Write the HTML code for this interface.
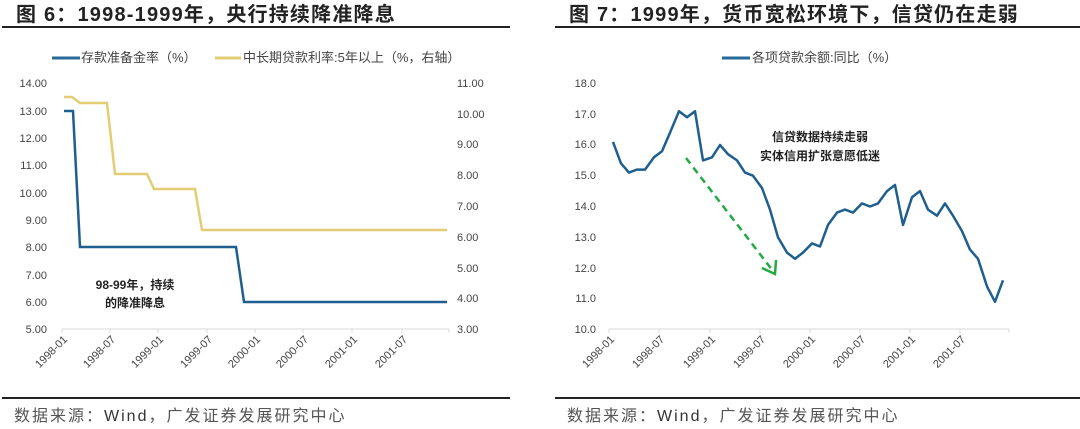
<!DOCTYPE html>
<html><head><meta charset="utf-8"><style>
body{margin:0;background:#fff;}
svg{display:block;font-family:"Liberation Sans","Noto Sans CJK SC",sans-serif;}
</style></head><body>
<svg width="1080" height="429" viewBox="0 0 1080 429" xmlns="http://www.w3.org/2000/svg">
<!-- titles -->
<text x="16" y="21" font-size="20" font-weight="bold" fill="#222" letter-spacing="1.2">图 6：1998-1999年，央行持续降准降息</text>
<text x="569" y="21" font-size="20" font-weight="bold" fill="#222" letter-spacing="1.2">图 7：1999年，货币宽松环境下，信贷仍在走弱</text>
<line x1="2" y1="27" x2="510" y2="27" stroke="#222" stroke-width="2"/>
<line x1="555" y1="27" x2="1080" y2="27" stroke="#222" stroke-width="2"/>
<line x1="2" y1="398" x2="510" y2="398" stroke="#222" stroke-width="2"/>
<line x1="555" y1="398" x2="1080" y2="398" stroke="#222" stroke-width="2"/>
<text x="14" y="421" font-size="16" fill="#555" letter-spacing="2">数据来源：<tspan fill="#333">Wind</tspan>，广发证券发展研究中心</text>
<text x="567" y="421" font-size="16" fill="#555" letter-spacing="2">数据来源：<tspan fill="#333">Wind</tspan>，广发证券发展研究中心</text>

<!-- LEFT CHART -->
<line x1="52" y1="58" x2="80" y2="58" stroke="#2a6a9a" stroke-width="3"/>
<text x="81" y="62" font-size="13" fill="#444">存款准备金率（%）</text>
<line x1="215" y1="58" x2="241" y2="58" stroke="#e3cd73" stroke-width="3"/>
<text x="243" y="62" font-size="13" fill="#444">中长期贷款利率:5年以上（%，右轴）</text>
<g font-size="11" fill="#444" text-anchor="end">
<text x="47" y="87">14.00</text><text x="47" y="115">13.00</text><text x="47" y="142">12.00</text>
<text x="47" y="169">11.00</text><text x="47" y="197">10.00</text><text x="47" y="224">9.00</text>
<text x="47" y="251">8.00</text><text x="47" y="279">7.00</text><text x="47" y="306">6.00</text>
<text x="47" y="333">5.00</text>
</g>
<g font-size="11" fill="#444">
<text x="457" y="87">11.00</text><text x="457" y="118">10.00</text><text x="457" y="148">9.00</text>
<text x="457" y="179">8.00</text><text x="457" y="210">7.00</text><text x="457" y="241">6.00</text>
<text x="457" y="272">5.00</text><text x="457" y="302">4.00</text><text x="457" y="333">3.00</text>
</g>
<line x1="62" y1="329" x2="449" y2="329" stroke="#d8d8d8" stroke-width="1"/>
<g stroke="#d8d8d8"><line x1="62" y1="329" x2="62" y2="333"/><line x1="110" y1="329" x2="110" y2="333"/><line x1="158" y1="329" x2="158" y2="333"/><line x1="207" y1="329" x2="207" y2="333"/><line x1="255" y1="329" x2="255" y2="333"/><line x1="303" y1="329" x2="303" y2="333"/><line x1="352" y1="329" x2="352" y2="333"/><line x1="402" y1="329" x2="402" y2="333"/><line x1="449" y1="329" x2="449" y2="333"/></g>
<g font-size="11" fill="#444" text-anchor="end">
<text transform="translate(68,340) rotate(-45)">1998-01</text>
<text transform="translate(116,340) rotate(-45)">1998-07</text>
<text transform="translate(164,340) rotate(-45)">1999-01</text>
<text transform="translate(213,340) rotate(-45)">1999-07</text>
<text transform="translate(261,340) rotate(-45)">2000-01</text>
<text transform="translate(309,340) rotate(-45)">2000-07</text>
<text transform="translate(358,340) rotate(-45)">2001-01</text>
<text transform="translate(408,340) rotate(-45)">2001-07</text>
</g>
<polyline fill="none" stroke="#e3cd73" stroke-width="2.5" points="64,97 72,97 80,103 107,103 115,174 147,174 154,189 195,189 202,230 447,230"/>
<polyline fill="none" stroke="#1f5f8f" stroke-width="2.5" points="64,111 73,111 80,247 236,247 244,302 447,302"/>
<g font-size="12" font-weight="bold" fill="#222" text-anchor="middle">
<text x="135" y="289">98-99年，持续</text>
<text x="135" y="307">的降准降息</text>
</g>

<!-- RIGHT CHART -->
<line x1="722" y1="58" x2="750" y2="58" stroke="#2a6a9a" stroke-width="3"/>
<text x="752" y="62" font-size="13" fill="#444">各项贷款余额:同比（%）</text>
<g font-size="11" fill="#444" text-anchor="end">
<text x="596" y="87">18.0</text><text x="596" y="118">17.0</text><text x="596" y="148">16.0</text>
<text x="596" y="179">15.0</text><text x="596" y="210">14.0</text><text x="596" y="241">13.0</text>
<text x="596" y="272">12.0</text><text x="596" y="302">11.0</text><text x="596" y="333">10.0</text>
</g>
<line x1="609" y1="329" x2="1009" y2="329" stroke="#d8d8d8"/>
<g stroke="#d8d8d8"><line x1="609" y1="329" x2="609" y2="333"/><line x1="659" y1="329" x2="659" y2="333"/><line x1="710" y1="329" x2="710" y2="333"/><line x1="760" y1="329" x2="760" y2="333"/><line x1="810" y1="329" x2="810" y2="333"/><line x1="860" y1="329" x2="860" y2="333"/><line x1="910" y1="329" x2="910" y2="333"/><line x1="960" y1="329" x2="960" y2="333"/><line x1="1009" y1="329" x2="1009" y2="333"/></g>
<g font-size="11" fill="#444" text-anchor="end">
<text transform="translate(615,340) rotate(-45)">1998-01</text>
<text transform="translate(665,340) rotate(-45)">1998-07</text>
<text transform="translate(716,340) rotate(-45)">1999-01</text>
<text transform="translate(766,340) rotate(-45)">1999-07</text>
<text transform="translate(816,340) rotate(-45)">2000-01</text>
<text transform="translate(866,340) rotate(-45)">2000-07</text>
<text transform="translate(916,340) rotate(-45)">2001-01</text>
<text transform="translate(966,340) rotate(-45)">2001-07</text>
</g>
<polyline fill="none" stroke="#1f5f8f" stroke-width="2.5" stroke-linejoin="round" points="613,141.9 621,163.4 629,172.6 637,169.6 645,169.6 654,157.3 662,151.2 670,132.7 679,111.2 687,117.3 695,111.2 703,160.4 712,157.3 720,145 728,154.2 737,160.4 745,172.6 753,175.7 762,188 770,209.6 778,237.3 787,252.6 795,258.8 803,252.6 812,243.4 820,246.5 828,224.9 837,212.6 845,209.6 853,212.6 862,203.4 870,206.5 878,203.4 887,191.1 895,185 903,225 912,197.3 920,191.1 928,209.6 937,215.7 945,203.4 953,215.7 962,231.1 970,249.6 978,258.8 987,286.4 995,301.8 1003,280.3"/>
<line x1="686" y1="158" x2="773" y2="271" stroke="#22aa44" stroke-width="2.5" stroke-dasharray="7,5"/>
<polyline fill="none" stroke="#22aa44" stroke-width="2.5" points="762,268 775,274 776,260"/>
<g font-size="12" font-weight="bold" fill="#222" text-anchor="middle">
<text x="820" y="141">信贷数据持续走弱</text>
<text x="820" y="160">实体信用扩张意愿低迷</text>
</g>
</svg>
</body></html>
